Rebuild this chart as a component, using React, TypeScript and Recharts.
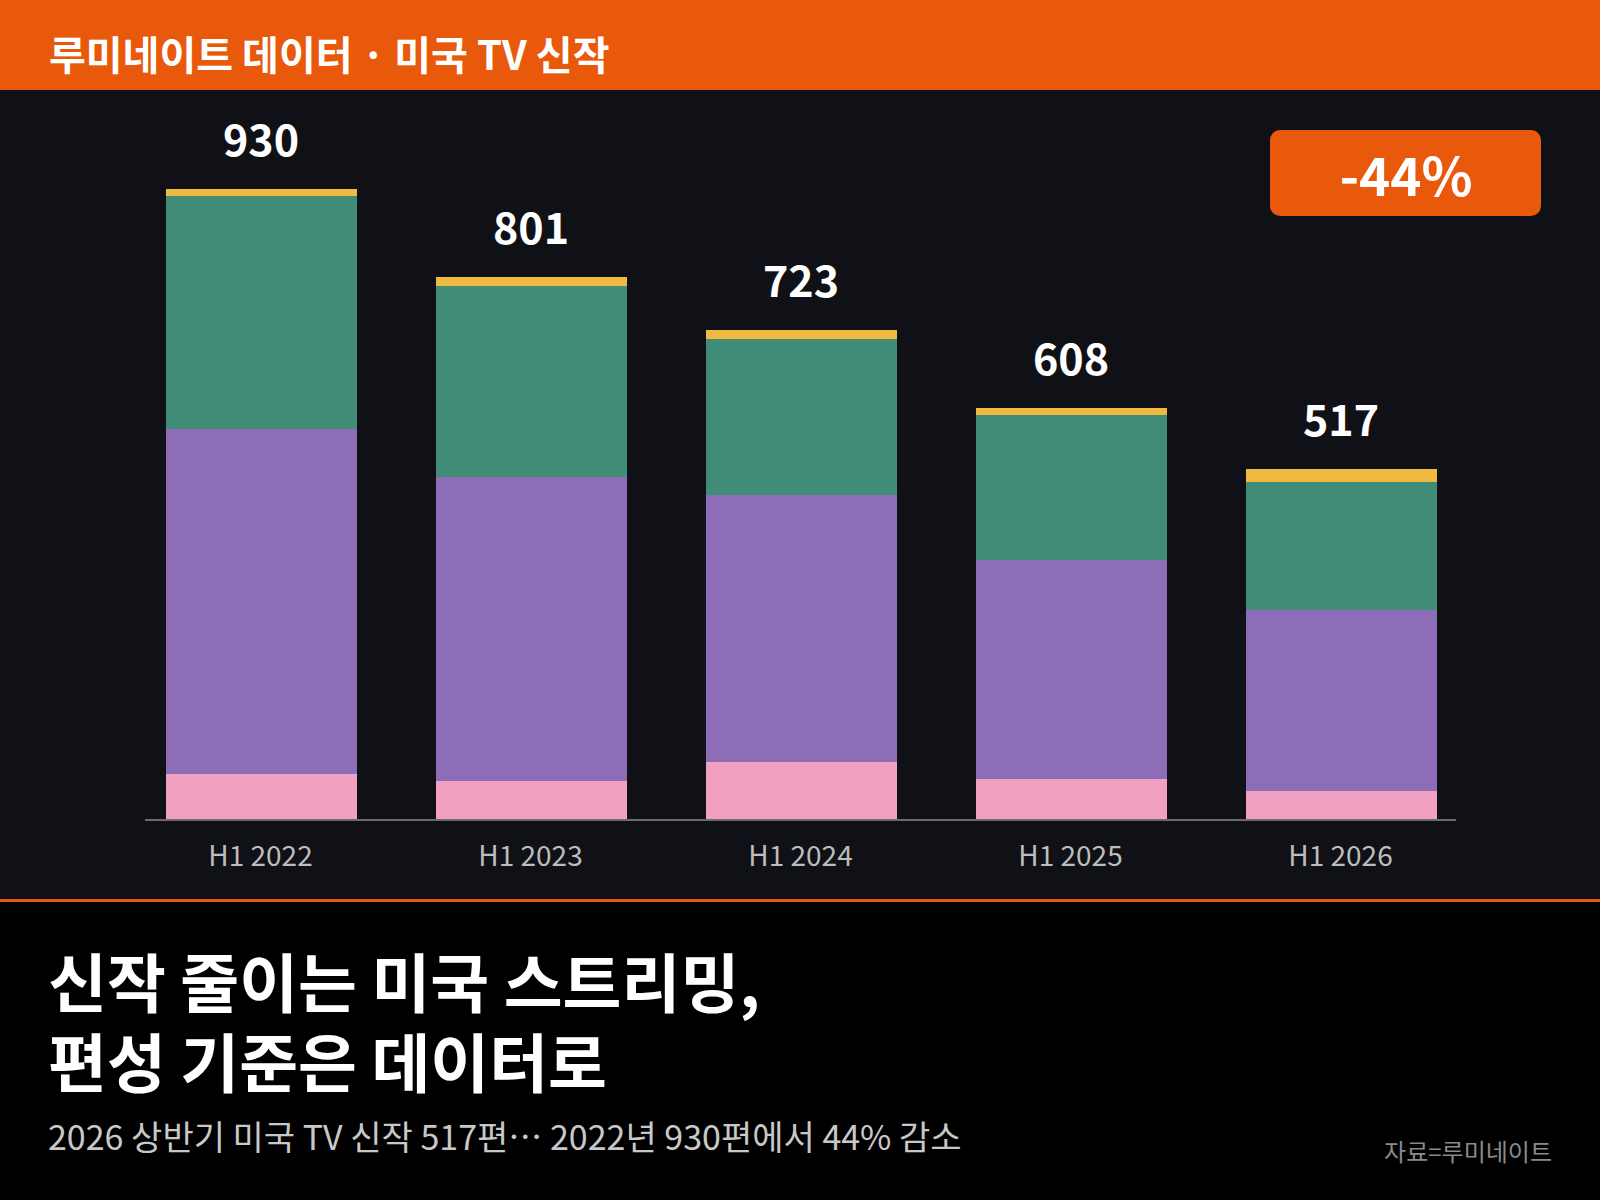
import React from 'react';
import { BarChart, Bar, XAxis, YAxis, LabelList } from 'recharts';

const categories = ['H1 2022', 'H1 2023', 'H1 2024', 'H1 2025', 'H1 2026'];
const pinkValues = [68, 58, 86, 60, 43];
const purpleValues = [508, 448, 394, 323, 266];
const greenValues = [345, 281, 230, 214, 190];
const yellowValues = [9, 14, 13, 11, 18];
const totals = [930, 801, 723, 608, 517];

const FONT = '"Noto Sans CJK KR", "Noto Sans", sans-serif';

const COLORS = {
    orange: '#E8590C',
    panel: '#101116',
    pink: '#F1A0C2',
    purple: '#8E6DB8',
    green: '#418C77',
    yellow: '#F0B940',
};

const chartData = categories.map((name, i) => ({
    name,
    pink: pinkValues[i],
    purple: purpleValues[i],
    green: greenValues[i],
    yellow: yellowValues[i],
    total: totals[i],
}));

export default function App() {
    return (
        <div style={{ position: 'relative', width: 1600, height: 1200, background: '#000', fontFamily: FONT, overflow: 'hidden' }}>
            <style>{`body { margin: 0; }`}</style>
            {/* header band, chart panel, divider */}
            <div style={{ position: 'absolute', left: 0, top: 0, width: 1600, height: 90, background: COLORS.orange }} />
            <div style={{ position: 'absolute', left: 0, top: 90, width: 1600, height: 809, background: COLORS.panel }} />
            <div style={{ position: 'absolute', left: 0, top: 899, width: 1600, height: 3, background: COLORS.orange }} />

            <div style={{ position: 'absolute', left: 0, top: 0 }}>
                <BarChart
                    width={1600}
                    height={900}
                    data={chartData}
                    margin={{ top: 142, right: 144, left: 145, bottom: 20 }}
                >
                    <XAxis
                        dataKey="name"
                        height={60}
                        padding={{ left: -19.5, right: -19.5 }}
                        axisLine={{ stroke: '#6a6a6a', strokeWidth: 2 }}
                        tickLine={false}
                        tickMargin={20}
                        tick={{ fill: '#BDBDBD', fontSize: 28, fontFamily: FONT }}
                    />
                    <YAxis hide domain={[0, 1000]} />
                    <Bar dataKey="pink" stackId="a" fill={COLORS.pink} barSize={191} shapeRendering="crispEdges" isAnimationActive={false} />
                    <Bar dataKey="purple" stackId="a" fill={COLORS.purple} barSize={191} shapeRendering="crispEdges" isAnimationActive={false} />
                    <Bar dataKey="green" stackId="a" fill={COLORS.green} barSize={191} shapeRendering="crispEdges" isAnimationActive={false} />
                    <Bar dataKey="yellow" stackId="a" fill={COLORS.yellow} barSize={191} shapeRendering="crispEdges" isAnimationActive={false}>
                        <LabelList
                            dataKey="total"
                            position="top"
                            offset={33}
                            fill="#FFFFFF"
                            fontSize={43}
                            fontWeight={700}
                            fontFamily={FONT}
                        />
                    </Bar>
                </BarChart>
            </div>

            <div
                style={{
                    position: 'absolute', left: 1270, top: 130, width: 271, height: 86,
                    background: COLORS.orange, borderRadius: 10,
                }}
            />

            <svg width={1600} height={1200} style={{ position: 'absolute', left: 0, top: 0 }} fontFamily={FONT}>
                <text x={49} y={70} fill="#FFFFFF" fontSize={40} fontWeight={700}>루미네이트 데이터 · 미국 TV 신작</text>
                <text x={1406} y={196} fill="#FFFFFF" fontSize={53} fontWeight={700} textAnchor="middle">-44%</text>
                <text x={48} y={1007} fill="#FFFFFF" fontSize={64} fontWeight={700}>
                    <tspan x={48} y={1007}>신작 줄이는 미국 스트리밍,</tspan>
                    <tspan x={48} y={1087}>편성 기준은 데이터로</tspan>
                </text>
                <text x={48} y={1150} fill="#C8C8C8" fontSize={34}>2026 상반기 미국 TV 신작 517편… 2022년 930편에서 44% 감소</text>
                <text x={1552} y={1161} fill="#8A8A8A" fontSize={24} textAnchor="end">자료=루미네이트</text>
            </svg>
        </div>
    );
}
